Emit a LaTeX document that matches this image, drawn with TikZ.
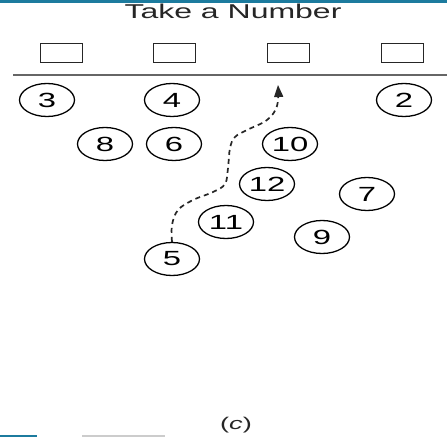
\documentclass[tikz,border=0pt]{standalone}
\usepackage{fontspec}
\usetikzlibrary{shapes.geometric,arrows.meta}
\newfontfamily\widesans[FakeStretch=1.6]{Liberation Sans}
\definecolor{barblue}{HTML}{1C7B9E}
\tikzset{
  num/.style={ellipse, draw=black, line width=1.3bp, minimum width=55bp, minimum height=33bp, inner sep=0pt, font=\widesans\fontsize{20.5bp}{20.5bp}\selectfont},
  slot/.style={rectangle, draw=black!85, line width=1bp, minimum width=42bp, minimum height=19bp, inner sep=0pt},
  walk/.style={dash pattern=on 5bp off 4bp, line width=1.7bp, black!85}
}
\begin{document}
\begin{tikzpicture}[x=1bp,y=-1bp]
\useasboundingbox (0,0) rectangle (447,437);
\node[anchor=base, font=\widesans\fontsize{20bp}{20bp}\selectfont, text=black!85, inner sep=0pt] (title) at (233,18.5) {Take a Number};
\fill[barblue] (0,0) rectangle (447,3);
\node[slot] (b1) at (61,53) {};
\node[slot] (b2) at (174,53) {};
\node[slot] (b3) at (288,53) {};
\node[slot] (b4) at (402,53) {};
\coordinate (lineL) at (13,75);
\coordinate (lineR) at (447,75);
\draw[black!60, line width=1.1bp] (lineL) -- (lineR);
\node[num] (n3) at (47,100) {3};
\node[num] (n4) at (172,100) {4};
\node[num] (n2) at (404,100) {2};
\node[num] (n8) at (105,144) {8};
\node[num] (n6) at (174,144) {6};
\node[num] (n10) at (290,144) {10};
\node[num] (n12) at (267,184) {12};
\node[num] (n7) at (367,194) {7};
\node[num] (n11) at (226,222) {11};
\node[num] (n9) at (322,237) {9};
\node[num] (n5) at (172,259) {5};
\coordinate (tip) at (278,85);
\draw[walk, -{Triangle[length=12bp,width=9bp]}] plot[smooth, tension=0.6] coordinates {(n5.north) (172,225) (178,210) (193,200) (213,192) (225,184) (228,168) (230,148) (235,137) (247,130) (267,120) (277,106) (tip)};
\node[font=\widesans\fontsize{17bp}{17bp}\selectfont, text=black!85, inner sep=0pt] (cap) at (236,425) {(\textit{c})};
\draw[barblue, line width=1.6bp] (0,435.8) -- (37,435.8);
\draw[black!20, line width=1.2bp] (82,436) -- (165,436);
\end{tikzpicture}
\end{document}
